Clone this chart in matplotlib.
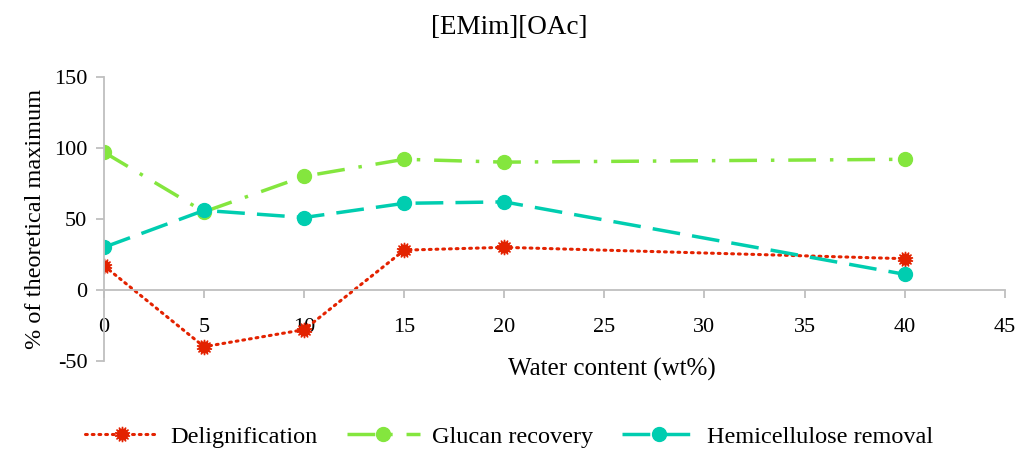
import matplotlib
matplotlib.use("Agg")
import matplotlib.pyplot as plt

plt.rcParams["font.family"] = ["Liberation Serif", "DejaVu Serif"]
plt.rcParams["axes.unicode_minus"] = False

water = [0, 5, 10, 15, 20, 40]
delignification = [17, -40, -28, 28, 30, 22]
glucan = [97, 55, 80, 92, 90, 92]
hemicellulose = [30, 56, 51, 61, 62, 11]

fig = plt.figure(figsize=(10.19, 4.5), dpi=100)
ax = fig.add_axes([0.102, 0.198, 0.884, 0.631])

ax.plot(water, delignification, color="#E32200", lw=2.2, ls=(0, (0.6, 1.6)),
        dash_capstyle="round", marker=(14, 1, 0), ms=11, label="Delignification")
ax.plot(water, glucan, color="#84E63E", lw=2.5, ls=(0, (8, 4, 1, 4)),
        marker="o", ms=10, label="Glucan recovery")
ax.plot(water, hemicellulose, color="#00CDB0", lw=2.5, ls=(0, (8, 3.5)),
        marker="o", ms=10, label="Hemicellulose removal")

ax.set_xlim(0, 45)
ax.set_ylim(-50, 150)
ax.set_xticks(range(0, 50, 5))
ax.set_yticks(range(-50, 200, 50))
for s in ("top", "right"):
    ax.spines[s].set_visible(False)
ax.spines["left"].set_position(("data", 0))
ax.spines["bottom"].set_position(("data", 0))
for s in ("left", "bottom"):
    ax.spines[s].set_color("#BFBFBF")
    ax.spines[s].set_linewidth(1.3)
ax.tick_params(axis="both", colors="#BFBFBF", labelcolor="black",
               labelsize=16, length=6, width=1.3)
ax.tick_params(axis="x", pad=14)
ax.tick_params(axis="y", pad=6)

fig.text(0.5, 0.938, "[EMim][OAc]", fontsize=19.5, ha="center", va="center")
ax.set_ylabel("% of theoretical maximum", fontsize=17.5, labelpad=6)
fig.text(0.6, 0.178, "Water content (wt%)", fontsize=18, ha="center",
         va="center")

fig.legend(loc="center", bbox_to_anchor=(0.5, 0.029), ncol=3,
           frameon=False, fontsize=17.5, handlelength=3.0, columnspacing=1.2,
           handletextpad=0.5)

fig.savefig("out.png", dpi=100)
